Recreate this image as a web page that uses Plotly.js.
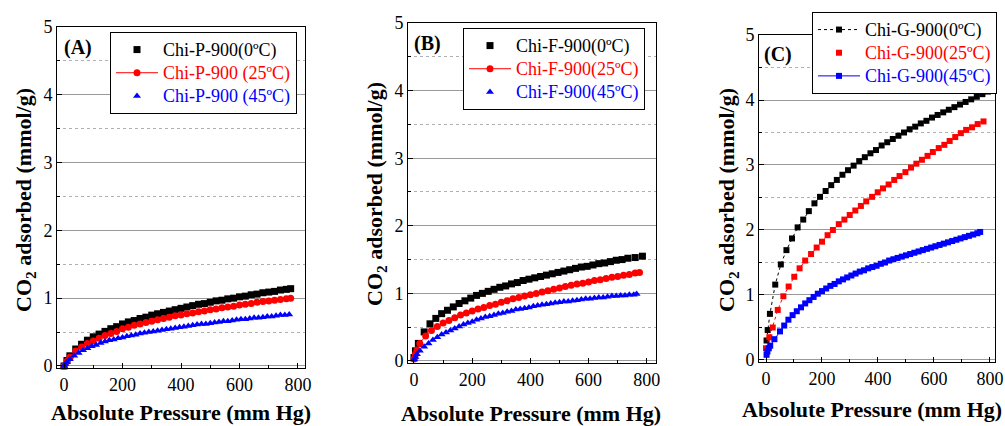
<!DOCTYPE html>
<html><head><meta charset="utf-8">
<script src="https://cdn.plot.ly/plotly-3.0.1.min.js"></script>
<style>html,body{margin:0;padding:0;background:#fff;}#c{width:1005px;height:426px;}</style>
</head><body><div id="c"></div>
<script>
// ---- Panel A: Chi-P-900 ----
const xA0 = [0,10,20,40,60,80,100,120,140,160,180,200,220,240,260,280,300,320,340,360,380,400,420,440,460,480,500,520,540,560,580,600,620,640,660,680,700,720,740,760,775];
const yA0 = [0,0.08,0.15,0.25,0.32,0.38,0.43,0.47,0.51,0.55,0.58,0.62,0.65,0.67,0.70,0.72,0.75,0.77,0.79,0.81,0.83,0.85,0.87,0.89,0.91,0.92,0.94,0.96,0.97,0.99,1.00,1.02,1.03,1.05,1.06,1.08,1.09,1.10,1.12,1.13,1.14];
const xA25 = [0,10,20,40,60,80,100,120,140,160,180,200,220,240,260,280,300,320,340,360,380,400,420,440,460,480,500,520,540,560,580,600,620,640,660,680,700,720,740,760,775];
const yA25 = [0,0.07,0.13,0.22,0.28,0.33,0.37,0.41,0.45,0.48,0.51,0.55,0.57,0.60,0.62,0.64,0.66,0.68,0.70,0.72,0.74,0.75,0.77,0.78,0.80,0.81,0.83,0.84,0.86,0.87,0.88,0.90,0.91,0.92,0.94,0.95,0.96,0.97,0.98,0.99,1.00];
const xA45 = [0,5,10,20,35,50,65,80,95,110,125,140,155,170,185,200,215,230,245,260,275,290,305,320,335,350,365,380,395,410,425,440,455,470,485,500,515,530,545,560,575,590,605,620,635,650,665,680,695,710,725,740,755,770];
const yA45 = [0,0.03,0.06,0.10,0.15,0.19,0.23,0.26,0.29,0.31,0.34,0.36,0.38,0.39,0.41,0.42,0.44,0.45,0.46,0.48,0.49,0.50,0.51,0.52,0.53,0.54,0.55,0.56,0.57,0.58,0.59,0.60,0.61,0.62,0.62,0.63,0.64,0.65,0.66,0.66,0.67,0.68,0.69,0.69,0.70,0.71,0.71,0.72,0.73,0.73,0.74,0.75,0.75,0.76];

// ---- Panel B: Chi-F-900 ----
const xB0 = [0,5,15,35,55,75,95,115,135,155,175,195,215,235,255,275,295,315,335,355,375,395,415,435,455,475,495,515,535,555,575,595,615,635,655,675,695,715,735,760,785];
const yB0 = [0.05,0.15,0.26,0.43,0.55,0.63,0.70,0.75,0.80,0.85,0.89,0.93,0.97,1.00,1.03,1.06,1.09,1.11,1.14,1.16,1.19,1.21,1.23,1.25,1.27,1.29,1.31,1.33,1.35,1.37,1.39,1.40,1.42,1.44,1.45,1.47,1.49,1.50,1.52,1.53,1.55];
const xB25 = [0,5,10,20,40,60,80,100,120,140,160,180,200,220,240,260,280,300,320,340,360,380,400,420,440,460,480,500,520,540,560,580,600,620,640,660,680,700,720,740,760,775];
const yB25 = [0.03,0.10,0.16,0.26,0.37,0.45,0.51,0.56,0.60,0.64,0.68,0.71,0.74,0.77,0.79,0.82,0.84,0.87,0.89,0.92,0.94,0.96,0.98,1.00,1.02,1.04,1.06,1.08,1.10,1.12,1.14,1.15,1.17,1.19,1.20,1.22,1.24,1.25,1.27,1.28,1.30,1.31];
const xB45 = [0,5,10,20,35,50,65,80,95,110,125,140,155,170,185,200,215,230,245,260,275,290,305,320,335,350,365,380,395,410,425,440,455,470,485,500,515,530,545,560,575,590,605,620,635,650,665,680,695,710,725,740,755,765];
const yB45 = [0.02,0.06,0.10,0.15,0.21,0.26,0.31,0.35,0.39,0.42,0.45,0.48,0.51,0.54,0.56,0.58,0.61,0.63,0.65,0.66,0.68,0.70,0.71,0.73,0.74,0.76,0.77,0.78,0.79,0.81,0.82,0.83,0.84,0.85,0.86,0.87,0.88,0.88,0.89,0.90,0.91,0.92,0.92,0.93,0.94,0.94,0.95,0.96,0.96,0.97,0.97,0.98,0.98,0.99];

// ---- Panel C: Chi-G-900 ----
const xC0 = [2,6,14,33,53,73,93,113,133,153,173,193,213,233,253,273,293,313,333,353,373,393,413,433,453,473,493,513,533,553,573,593,613,633,653,673,693,713,733,753,773,793];
const yC0 = [0.30,0.46,0.71,1.16,1.47,1.69,1.87,2.04,2.16,2.29,2.41,2.51,2.60,2.69,2.77,2.85,2.92,2.99,3.06,3.12,3.18,3.23,3.30,3.35,3.40,3.45,3.50,3.55,3.59,3.64,3.68,3.73,3.77,3.81,3.85,3.89,3.93,3.97,4.01,4.05,4.09,4.13];
const xC25 = [0,12,24,42,62,81,101,120,140,161,181,200,220,239,260,280,299,319,339,358,379,399,418,438,458,477,498,518,537,557,577,596,617,637,656,676,696,715,736,756,777];
const yC25 = [0.18,0.35,0.50,0.77,0.98,1.13,1.28,1.41,1.53,1.63,1.73,1.82,1.92,2.00,2.09,2.16,2.23,2.30,2.37,2.44,2.51,2.58,2.64,2.70,2.77,2.83,2.89,2.96,3.02,3.08,3.14,3.20,3.26,3.31,3.37,3.43,3.49,3.54,3.58,3.63,3.67];
const xC45 = [2,5,10,15,30,50,65,80,95,110,125,140,155,170,185,200,215,230,245,260,275,290,305,320,335,350,365,380,395,410,425,440,455,470,485,500,515,530,545,560,575,590,605,620,635,650,665,680,695,710,725,740,755,765];
const yC45 = [0.08,0.13,0.18,0.22,0.32,0.44,0.53,0.62,0.69,0.75,0.81,0.87,0.92,0.97,1.02,1.06,1.10,1.14,1.17,1.21,1.24,1.27,1.30,1.33,1.36,1.38,1.41,1.43,1.45,1.48,1.50,1.53,1.55,1.57,1.59,1.61,1.63,1.65,1.67,1.69,1.71,1.73,1.75,1.77,1.79,1.81,1.83,1.85,1.87,1.89,1.91,1.93,1.95,1.97];

// ---- Text ----
const namesA = ['Chi-P-900(0ºC)', 'Chi-P-900 (25ºC)', 'Chi-P-900 (45ºC)'];
const namesB = ['Chi-F-900(0ºC)', 'Chi-F-900(25ºC)', 'Chi-F-900(45ºC)'];
const namesC = ['Chi-G-900(0ºC)', 'Chi-G-900(25ºC)', 'Chi-G-900(45ºC)'];
const panelLabels = ['(A)', '(B)', '(C)'];
const xTitle = 'Absolute Pressure (mm Hg)';
const yTitle = 'CO<sub>2</sub> adsorbed (mmol/g)';
const xTickVals = [0,200,400,600,800];
const yTickVals = [0,1,2,3,4,5];

const FONT = 'Liberation Serif';
const BLACK = '#000000', RED = '#ff0000', BLUE = '#0000ff';
const col = (c, t) => '<span style="color:' + c + ';font-size:18px">' + t + '</span>';

function tr(x, y, name, color, symbol, size, xa, ya, lg, mode, line) {
  return {x: x, y: y, name: col(color, name), type: 'scatter', mode: mode,
    xaxis: xa, yaxis: ya, legend: lg, cliponaxis: false,
    marker: {color: color, symbol: symbol, size: size},
    line: line || {color: color, width: 1}};
}
const data = [
  tr(xA0, yA0, namesA[0], BLACK, 'square', 7, 'x', 'y', 'legend', 'markers'),
  tr(xA25, yA25, namesA[1], RED, 'circle', 7, 'x', 'y', 'legend', 'lines+markers'),
  tr(xA45, yA45, namesA[2], BLUE, 'triangle-up', 7, 'x', 'y', 'legend', 'markers'),
  tr(xB0, yB0, namesB[0], BLACK, 'square', 7, 'x2', 'y2', 'legend2', 'markers'),
  tr(xB25, yB25, namesB[1], RED, 'circle', 7, 'x2', 'y2', 'legend2', 'lines+markers'),
  tr(xB45, yB45, namesB[2], BLUE, 'triangle-up', 7, 'x2', 'y2', 'legend2', 'markers'),
  tr(xC0, yC0, namesC[0], BLACK, 'square', 6, 'x3', 'y3', 'legend3', 'lines+markers', {color: BLACK, width: 1, dash: 'dot'}),
  tr(xC25, yC25, namesC[1], RED, 'square', 6, 'x3', 'y3', 'legend3', 'markers'),
  tr(xC45, yC45, namesC[2], BLUE, 'square', 6, 'x3', 'y3', 'legend3', 'lines+markers')
];
// red dotted connector in panel C (same data, not in legend)
data.splice(7, 0, {x: xC25, y: yC25, type: 'scatter', mode: 'lines', xaxis: 'x3', yaxis: 'y3',
  showlegend: false, line: {color: RED, width: 1, dash: 'dot'}, hoverinfo: 'skip'});

const W = 1005, H = 426;
const boxes = [
  {l: 57, r: 305, t: 27, b: 368, xr: [-24, 824], yr: [-0.03, 5], xt: [181, 412], yt: [25, 200], lab: [62, 48], leg: [110, 32]},
  {l: 408, r: 656, t: 23, b: 363, xr: [-20.6, 831.6], yr: [-0.03, 5], xt: [531, 413], yt: [376, 194], lab: [412, 43], leg: [463, 28]},
  {l: 759, r: 995, t: 35, b: 362, xr: [-25, 818], yr: [-0.031, 5], xt: [872, 409], yt: [728, 200], lab: [762, 55], leg: [812, 12]}
];
function xaxis(bx, yname) {
  return {domain: [bx.l / W, bx.r / W], range: bx.xr, anchor: yname,
    showline: true, mirror: true, linecolor: '#000', linewidth: 1,
    ticks: 'inside', ticklen: 5, tickcolor: '#000', tickwidth: 1,
    tickvals: xTickVals, showgrid: false, zeroline: false,
    tickfont: {family: FONT, size: 18, color: '#000'},
    minor: {dtick: 100, tick0: 0, ticks: 'inside', ticklen: 3, tickcolor: '#000', showgrid: false}};
}
function yaxis(bx, xname) {
  return {domain: [1 - bx.b / H, 1 - bx.t / H], range: bx.yr, anchor: xname,
    showline: true, mirror: true, linecolor: '#000', linewidth: 1,
    ticks: 'inside', ticklen: 5, tickcolor: '#000', tickwidth: 1,
    tickvals: yTickVals, zeroline: false,
    showgrid: true, gridcolor: '#9a9a9a', gridwidth: 1,
    tickfont: {family: FONT, size: 18, color: '#000'},
    minor: {dtick: 0.5, tick0: 0, ticks: 'inside', ticklen: 3, tickcolor: '#000',
      showgrid: true, gridcolor: '#b0b0b0', griddash: 'dot', gridwidth: 1}};
}
function legend(p) {
  return {x: p[0] / W, y: 1 - p[1] / H, xanchor: 'left', yanchor: 'top',
    bgcolor: '#fff', bordercolor: '#000', borderwidth: 1,
    font: {family: FONT, size: 15.5, color: '#000'}, tracegroupgap: 0, itemwidth: 42};
}
const LF = {family: FONT, size: 20, color: '#000'};
const TF = {family: FONT, size: 22, color: '#000'};
const annotations = [];
boxes.forEach((bx, i) => {
  annotations.push({text: '<b>' + panelLabels[i] + '</b>', x: bx.lab[0] / W, y: 1 - bx.lab[1] / H, xref: 'paper', yref: 'paper', xanchor: 'left', yanchor: 'middle', showarrow: false, font: LF});
  annotations.push({text: '<b>' + xTitle + '</b>', x: bx.xt[0] / W, y: 1 - bx.xt[1] / H, xref: 'paper', yref: 'paper', xanchor: 'center', yanchor: 'middle', showarrow: false, font: TF});
  annotations.push({text: '<b>' + yTitle + '</b>', x: bx.yt[0] / W, y: 1 - bx.yt[1] / H, xref: 'paper', yref: 'paper', xanchor: 'center', yanchor: 'middle', textangle: -90, showarrow: false, font: TF});
});
const layout = {
  width: W, height: H, margin: {l: 0, r: 0, t: 0, b: 0},
  font: {family: FONT, color: '#000'},
  paper_bgcolor: '#fff', plot_bgcolor: '#fff', showlegend: true,
  xaxis: xaxis(boxes[0], 'y'), yaxis: yaxis(boxes[0], 'x'),
  xaxis2: xaxis(boxes[1], 'y2'), yaxis2: yaxis(boxes[1], 'x2'),
  xaxis3: xaxis(boxes[2], 'y3'), yaxis3: yaxis(boxes[2], 'x3'),
  legend: legend(boxes[0].leg), legend2: legend(boxes[1].leg), legend3: legend(boxes[2].leg),
  annotations: annotations
};
Plotly.newPlot('c', data, layout, {staticPlot: true});
</script></body></html>
